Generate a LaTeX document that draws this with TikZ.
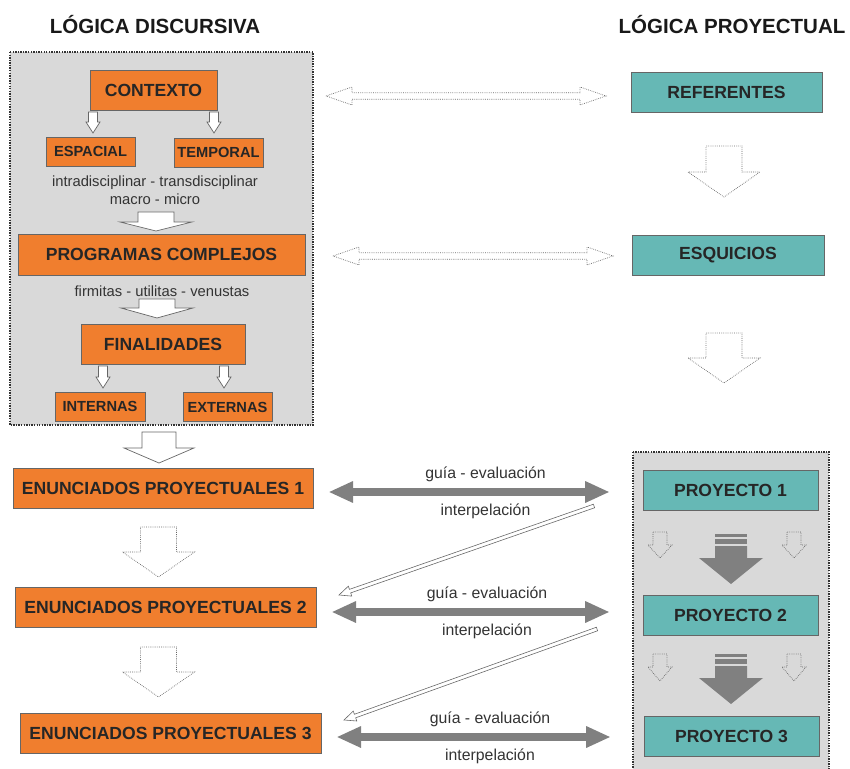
\documentclass[tikz,border=0pt]{standalone}
\usepackage{fontspec}
\setmainfont{Liberation Sans}
\usepackage{xcolor}
\usepackage{tikz}
\usetikzlibrary{arrows.meta,calc}
\definecolor{naranja}{HTML}{F07E2E}
\definecolor{turquesa}{HTML}{66B8B5}
\definecolor{grisfondo}{HTML}{D9D9D9}
\definecolor{grisflecha}{HTML}{808080}

\tikzset{
  cajanaranja/.style={draw=black!60, fill=naranja, line width=0.7pt, text=black!85,
    font=\fontsize{15}{18}\selectfont\bfseries, minimum height=1.2cm, inner sep=0pt},
  cajachica/.style={cajanaranja, font=\fontsize{12.5}{15}\selectfont\bfseries, minimum height=0.87cm},
  cajaturquesa/.style={cajanaranja, fill=turquesa},
  texto/.style={font=\fontsize{12.6}{15}\selectfont, text=black!80, inner sep=0pt},
  etiqueta/.style={font=\fontsize{13.5}{16}\selectfont, text=black!80, inner sep=0pt},
  titulo/.style={font=\fontsize{17.5}{21}\selectfont\bfseries, text=black!90, inner sep=0pt},
  fondo/.style={fill=grisfondo, draw=black!80, densely dotted, line width=1.2pt},
  hueca/.style={draw=black!60, fill=white, line width=0.6pt},
  punteada/.style={draw=black!60, fill=white, densely dotted, line width=0.6pt},
  punteadagris/.style={draw=black!60, densely dotted, line width=0.6pt},
  dobleflecha/.style={draw=grisflecha, line width=6.8pt, <->, >={Triangle[length=21pt,width=17pt]}},
}

% flecha de bloque hacia abajo: estilo, x, y arriba, y cabeza, y punta, medio cuerpo, media cabeza
\newcommand{\flechabaja}[7][]{%
  \draw[#1] (#2-#6,#3) -- (#2+#6,#3) -- (#2+#6,#4) -- (#2+#7,#4) -- (#2,#5)
    -- (#2-#7,#4) -- (#2-#6,#4) -- cycle;}
% flecha doble horizontal hueca: estilo, x1, x2, y
\newcommand{\flechadoble}[4][]{%
  \draw[#1] (#2,#4) -- (#2+26,#4-9) -- (#2+26,#4-3.3) -- (#3-26,#4-3.3) -- (#3-26,#4-9)
    -- (#3,#4) -- (#3-26,#4+9) -- (#3-26,#4+3.3) -- (#2+26,#4+3.3) -- (#2+26,#4+9) -- cycle;}
% flecha gris con franjas: x, y arriba
\newcommand{\flechagris}[2]{%
  \fill[grisflecha] (#1-16,#2) rectangle (#1+16,#2+3);
  \fill[grisflecha] (#1-16,#2+5) rectangle (#1+16,#2+10);
  \fill[grisflecha] (#1-16,#2+12) -- (#1+16,#2+12) -- (#1+16,#2+24) -- (#1+32,#2+24)
    -- (#1,#2+50) -- (#1-32,#2+24) -- (#1-16,#2+24) -- cycle;}
% flecha diagonal hueca y delgada: desde, hasta
\newcommand{\flechadiagonal}[2]{%
  \coordinate (h) at ($(#2)!10pt!(#1)$);
  \draw[hueca, line width=0.5pt] ($(#1)!1.6pt!90:(#2)$) -- ($(h)!1.6pt!90:(#2)$)
    -- ($(h)!4.5pt!90:(#2)$) -- (#2) -- ($(h)!4.5pt!-90:(#2)$)
    -- ($(h)!1.6pt!-90:(#2)$) -- ($(#1)!1.6pt!-90:(#2)$) -- cycle;}

\begin{document}
\begin{tikzpicture}[x=0.03cm, y=-0.03cm]
    \useasboundingbox (0,0) rectangle (850,769);
    \clip (0,0) rectangle (850,769);

    % Titulos
    \node[titulo] (tdiscursiva) at (155,25) {LÓGICA DISCURSIVA};
    \node[titulo] (tproyectual) at (732,25) {LÓGICA PROYECTUAL};

    % Fondos punteados
    \draw[fondo] (10,52) rectangle (313,425);
    \draw[fondo] (633,452) rectangle (829,790);

    % Logica discursiva
    \node[cajanaranja, minimum width=3.81cm] (contexto) at (153.5,90) {CONTEXTO};
    \node[cajachica, minimum width=2.67cm] (espacial) at (90.5,151.5) {ESPACIAL};
    \node[cajachica, minimum width=2.67cm] (temporal) at (218.5,152.5) {TEMPORAL};
    \flechabaja[hueca]{93}{112}{122}{133}{4.5}{7}
    \flechabaja[hueca]{214}{112}{122}{133}{4.5}{7}
    \node[texto] (intra) at (155,183) {intradisciplinar - transdisciplinar};
    \node[texto] (macro) at (155,199) {macro - micro};
    \flechabaja[hueca]{156}{212}{222}{231}{18}{36}

    \node[cajanaranja, minimum width=8.61cm, minimum height=1.23cm] (programas) at (161.5,254.5) {PROGRAMAS COMPLEJOS};
    \node[texto] (firmitas) at (162,291) {firmitas - utilitas - venustas};
    \flechabaja[hueca]{157}{299}{308}{318}{18}{36}

    \node[cajanaranja, minimum width=4.92cm] (finalidades) at (163,344) {FINALIDADES};
    \flechabaja[hueca]{103}{366}{377}{388}{4.5}{7}
    \flechabaja[hueca]{224}{366}{377}{388}{4.5}{7}
    \node[cajachica, minimum width=2.7cm] (internas) at (100,406.5) {INTERNAS};
    \node[cajachica, minimum width=2.67cm] (externas) at (227.5,407) {EXTERNAS};

    % Enunciados
    \flechabaja[hueca]{159}{432}{448}{463}{17}{35}
    \node[cajanaranja, minimum width=9cm] (ep1) at (163,488) {ENUNCIADOS PROYECTUALES 1};
    \flechabaja[punteada]{158.5}{527}{552}{577}{18}{36}
    \node[cajanaranja, minimum width=9.03cm] (ep2) at (165.5,607) {ENUNCIADOS PROYECTUALES 2};
    \flechabaja[punteada]{158.5}{647}{672}{697}{18}{36}
    \node[cajanaranja, minimum width=9.03cm] (ep3) at (170.5,733) {ENUNCIADOS PROYECTUALES 3};

    % Logica proyectual
    \node[cajaturquesa, minimum width=5.73cm] (referentes) at (726.5,92) {REFERENTES};
    \flechabaja[punteada]{724}{146}{172}{197}{18}{36}
    \node[cajaturquesa, minimum width=5.76cm] (esquicios) at (728,255) {ESQUICIOS};
    \flechabaja[punteada]{724}{333}{358}{383}{18}{36}

    \node[cajaturquesa, minimum width=5.25cm] (p1) at (730.5,490) {PROYECTO 1};
    \flechabaja[punteadagris]{660}{532}{545}{558}{7}{12}
    \flechabaja[punteadagris]{794}{532}{545}{558}{7}{12}
    \flechagris{731}{534}
    \node[cajaturquesa, minimum width=5.25cm] (p2) at (730.5,615.5) {PROYECTO 2};
    \flechabaja[punteadagris]{660}{654}{667}{681}{7}{12}
    \flechabaja[punteadagris]{794}{654}{667}{681}{7}{12}
    \flechagris{731}{654}
    \node[cajaturquesa, minimum width=5.25cm] (p3) at (731.5,736) {PROYECTO 3};

    % Relaciones entre ambas logicas
    \flechadoble[punteada]{326}{606}{96}
    \flechadoble[punteada]{333}{613}{256}

    \foreach \i/\dy in {1/4, 2/5, 3/4} {
        \coordinate (izq\i) at ($(ep\i.east)+(15,\dy)$);
        \coordinate (der\i) at (izq\i -| p\i.west);
        \draw[dobleflecha, shorten >=28pt] (izq\i) -- (der\i)
            node[etiqueta, midway, yshift=0.54cm] {guía - evaluación}
            node[etiqueta, midway, yshift=-0.57cm] {interpelación};
    }

    \coordinate (desde1) at (594,506);
    \coordinate (hasta1) at (339,595);
    \flechadiagonal{desde1}{hasta1}
    \coordinate (desde2) at (597,629);
    \coordinate (hasta2) at (344,720);
    \flechadiagonal{desde2}{hasta2}

\end{tikzpicture}
\end{document}
